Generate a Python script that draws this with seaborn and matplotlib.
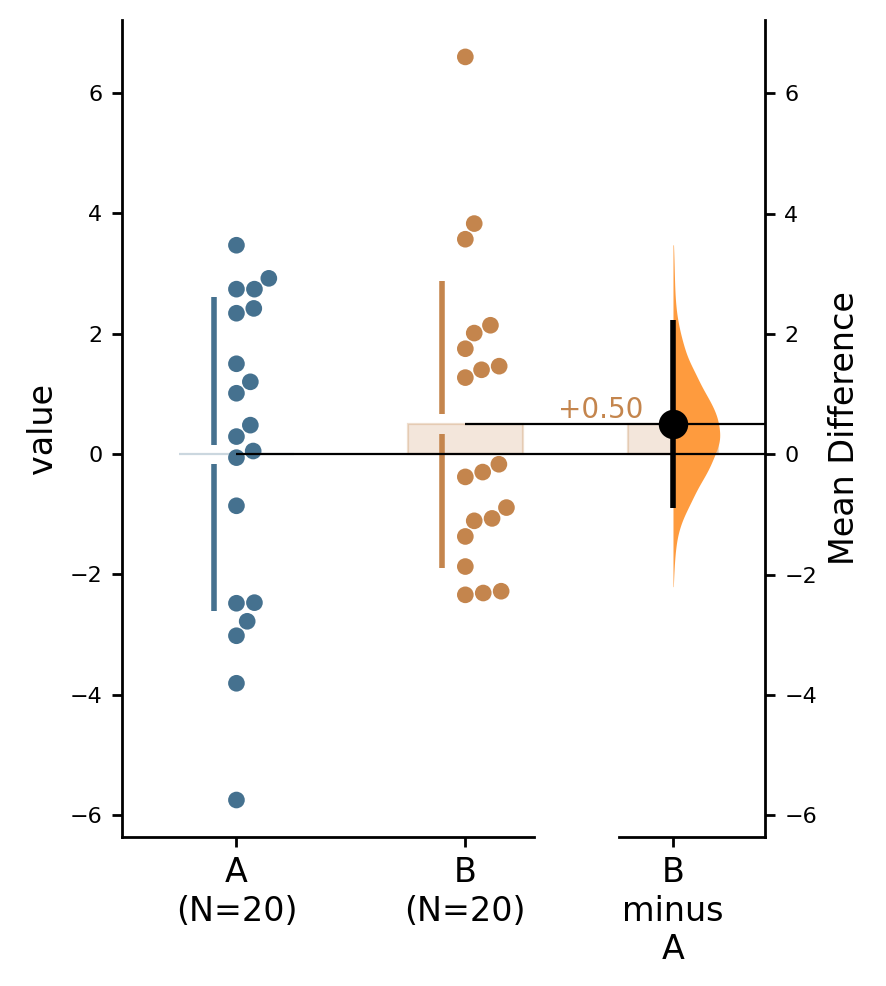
import numpy as np
import pandas as pd
import matplotlib
matplotlib.use("Agg")
import matplotlib.pyplot as plt
from matplotlib.colors import to_rgba
import seaborn as sns

groups = ["A", "B"]
values_a = [3.47, 2.74, 2.74, 2.92, 2.34, 2.42, 1.50, 1.20, 1.01, 0.48,
            0.29, 0.05, -0.06, -0.86, -2.48, -2.47, -2.78, -3.02, -3.81, -5.75]
values_b = [6.60, 3.83, 3.57, 2.14, 2.01, 1.75, 1.46, 1.40, 1.27, -0.17,
            -0.30, -0.38, -0.89, -1.07, -1.11, -1.37, -1.87, -2.34, -2.31, -2.28]
tick_labels = ["A\n(N=20)", "B\n(N=20)"]
contrast_label = "B\nminus\nA"

# bootstrap 95% CI and bootstrap density of the mean difference
ci_low, ci_high = -0.90, 2.23
boot_levels = [-2.20, -2.06, -1.92, -1.78, -1.64, -1.50, -1.35, -1.21, -1.07, -0.93,
               -0.79, -0.65, -0.50, -0.36, -0.22, -0.08, 0.07, 0.21, 0.35, 0.50,
               0.64, 0.78, 0.92, 1.06, 1.21, 1.35, 1.49, 1.64, 1.78, 1.92,
               2.06, 2.20, 2.35, 2.49, 2.63, 2.78, 2.92, 3.06, 3.20, 3.34, 3.48]
boot_density = [0.3, 0.6, 1.0, 1.4, 2.0, 3.0, 4.2, 6.2, 9.0, 13.0,
                 17.5, 21.5, 26.0, 30.5, 35.0, 39.5, 43.0, 45.5, 46.7, 45.5,
                 42.0, 38.5, 34.0, 30.0, 25.5, 21.5, 17.0, 13.3, 10.5, 8.3,
                 6.3, 4.8, 3.4, 2.5, 2.0, 1.7, 1.4, 1.2, 1.0, 0.8, 0.6]

col_a = "#45718f"
col_b = "#c4854d"
col_violin = "#fe9b3e"
palette = {"A": col_a, "B": col_b}

plt.rcParams["axes.linewidth"] = 1.0
plt.rcParams["xtick.major.width"] = 1.0
plt.rcParams["ytick.major.width"] = 1.0

df = pd.DataFrame({
    "group": ["A"] * len(values_a) + ["B"] * len(values_b),
    "value": values_a + values_b,
})
means = df.groupby("group")["value"].mean()
sds = df.groupby("group")["value"].std()
mean_diff = means["B"] - means["A"]


def swarm_right(ax, coll, diam=18.0):
    # one-sided beeswarm: push overlapping points to the right of their category
    pts = coll.get_offsets()
    if len(pts) == 0:
        return
    pix = ax.transData.transform(pts)
    new = pix.copy()
    placed = []
    for i in np.argsort(pix[:, 1]):
        x0, y0 = pix[i]
        near = [(px, py) for px, py in placed if abs(py - y0) < diam]
        cands = [x0] + [px + np.sqrt(diam ** 2 - (py - y0) ** 2) for px, py in near]
        cands = sorted(c for c in cands if c >= x0)
        pick = cands[-1]
        for c in cands:
            if all(abs(c - px) >= np.sqrt(diam ** 2 - (py - y0) ** 2) - 1e-6 for px, py in near):
                pick = c
                break
        new[i, 0] = pick
        placed.append((pick, y0))
    coll.set_offsets(ax.transData.inverted().transform(new))


fig = plt.figure(figsize=(4.43, 4.93), dpi=200)
ax = fig.add_axes([0.1377, 0.1511, 0.465, 0.8286])
cax = fig.add_axes([0.6986, 0.1511, 0.1648, 0.8286])

# raw data panel
sns.stripplot(data=df, x="group", y="value", hue="group", order=groups,
              palette=palette, jitter=False, size=6.0, linewidth=0,
              legend=False, zorder=3, ax=ax)
ax.set_xlim(-0.5, 1.3)
ax.set_ylim(-6.365, 7.213)
for coll in ax.collections:
    swarm_right(ax, coll)

gap = 0.16
for i, g in enumerate(groups):
    m, s = means[g], sds[g]
    ax.vlines([i - 0.1, i - 0.1], [m + gap, m - s], [m + s, m - gap],
              color=palette[g], lw=2, zorder=2)

ax.bar(range(len(groups)), [means[g] - means["A"] for g in groups], bottom=means["A"],
       width=0.5, color=[to_rgba(palette[g], 0.2) for g in groups],
       edgecolor=[to_rgba(palette[g], 0.28) for g in groups], linewidth=0.8, zorder=1)

ax.set_xticks(range(len(groups)), tick_labels)
ax.set_yticks(range(-6, 7, 2))
ax.tick_params(axis="x", labelsize=12)
ax.tick_params(axis="y", labelsize=8)
ax.set_xlabel("")
ax.set_ylabel("value", fontsize=12)
ax.spines[["top", "right"]].set_visible(False)

# contrast panel
sns.kdeplot(y=boot_levels, weights=boot_density, bw_adjust=0.35, cut=0, fill=True,
            color=col_violin, alpha=1, linewidth=0, zorder=2, ax=cax)
violin = cax.collections[-1]
verts = violin.get_paths()[0].vertices.copy()
verts[:, 0] *= 0.32 / verts[:, 0].max()
violin.set_verts([verts])

cax.set_xlim(-0.37, 0.63)
lo, hi = ax.get_ylim()
cax.set_ylim(lo - means["A"], hi - means["A"])

cax.bar(0, mean_diff, width=0.62, bottom=0, color=to_rgba(col_b, 0.2),
        edgecolor=to_rgba(col_b, 0.28), linewidth=0.8, zorder=1)
cax.vlines(0, ci_low, ci_high, color="black", lw=2, zorder=4)
cax.plot(0, mean_diff, "o", color="black", markersize=9.6, zorder=5)

x_starts = [cax.transData.inverted().transform(ax.transData.transform((i, 0)))[0]
            for i in range(len(groups))]
cax.hlines([0, mean_diff], x_starts, 0.63, color="black", lw=0.8,
           clip_on=False, zorder=3)
cax.text(-0.2, mean_diff, f"{mean_diff:+.2f}", ha="right", va="bottom",
         color=col_b, fontsize=10)

cax.set_xticks([0], [contrast_label])
cax.set_yticks(range(-6, 7, 2))
cax.yaxis.tick_right()
cax.yaxis.set_label_position("right")
cax.tick_params(axis="x", labelsize=12)
cax.tick_params(axis="y", labelsize=8)
cax.set_xlabel("")
cax.set_ylabel("Mean Difference", fontsize=12)
cax.spines[["top", "left"]].set_visible(False)
cax.patch.set_visible(False)

fig.savefig("out.png", dpi=200)
